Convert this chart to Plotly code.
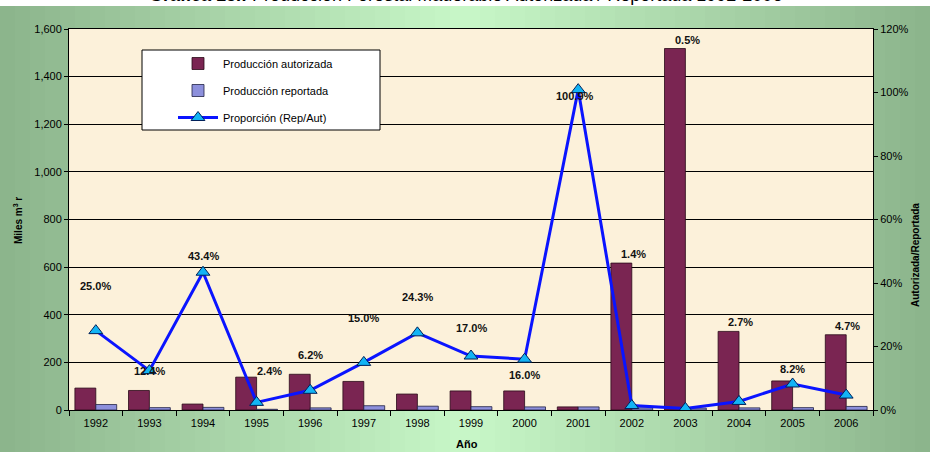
import plotly.graph_objects as go

years = ["1992", "1993", "1994", "1995", "1996", "1997", "1998", "1999",
         "2000", "2001", "2002", "2003", "2004", "2005", "2006"]
autorizada = [92, 82, 25, 138, 150, 120, 67, 80, 80, 13, 617, 1518, 330, 122, 316]
reportada = [23, 10, 11, 3, 9, 18, 16, 14, 13, 13, 9, 8, 9, 10, 15]
proporcion = [25.0, 12.4, 43.4, 2.4, 6.2, 15.0, 24.3, 17.0, 16.0, 100.9, 1.4, 0.5, 2.7, 8.2, 4.7]
prop_labels = ["25.0%", "12.4%", "43.4%", "2.4%", "6.2%", "15.0%", "24.3%", "17.0%",
               "16.0%", "100.9%", "1.4%", "0.5%", "2.7%", "8.2%", "4.7%"]

# label placement styling (anchor, xshift, yshift in px)
label_style = [("line", 0, 45), ("line", 0, 0), ("line", 0, 16), ("line", 13, 31),
               ("line", 0, 35), ("line", 0, 44), ("line", 0, 36), ("line", 0, 28),
               ("line", 0, -16), ("line", -3, -6), ("bar", 2, 1), ("bar", 2, 1),
               ("bar", 1, 1), ("line", 0, 15), ("bar", 1, 1)]

W, H = 930, 452
PL, PR, PT, PB = 69, 873, 29, 410
FONT = "Liberation Sans, Arial"


def px(x):
    return (x - PL) / (PR - PL)


def py(y):
    return (PB - y) / (PB - PT)


fig = go.Figure()

fig.add_trace(go.Bar(
    x=years, y=autorizada, name="Producción autorizada", yaxis="y", legendgroup="a",
    marker=dict(color="#7a2552", line=dict(color="#2a0a18", width=0.8)),
))
fig.add_trace(go.Bar(
    x=years, y=reportada, name="Producción reportada", yaxis="y", legendgroup="b",
    marker=dict(color="#8d90dc", line=dict(color="#222244", width=0.8)),
))
fig.add_trace(go.Scatter(
    x=years, y=proporcion, name="Proporción (Rep/Aut)", yaxis="y2", legendgroup="c",
    mode="lines+markers",
    line=dict(color="#0a14ff", width=3),
    marker=dict(symbol="triangle-up", size=12, color="#12b4f5",
                line=dict(color="#00205a", width=1)),
))

annotations = []
for i, lab in enumerate(prop_labels):
    anchor, xs, ys = label_style[i]
    if anchor == "bar":
        annotations.append(dict(x=i, y=autorizada[i], xref="x", yref="y", text="<b>%s</b>" % lab,
                                showarrow=False, xshift=xs, yshift=ys, yanchor="bottom",
                                font=dict(size=11, color="#111111", family=FONT)))
    else:
        annotations.append(dict(x=i, y=proporcion[i], xref="x", yref="y2", text="<b>%s</b>" % lab,
                                showarrow=False, xshift=xs, yshift=ys, yanchor="middle",
                                font=dict(size=11, color="#111111", family=FONT)))

# title (clipped at top, as in reference)
annotations.append(dict(x=px(465), xref="paper", y=py(7), yref="paper", yanchor="bottom",
                        text="<b>Gráfica 13I:</b> Producción Forestal Maderable Autorizada / Reportada 1992-2006",
                        showarrow=False, font=dict(size=18, color="#000000", family=FONT)))
annotations.append(dict(x=px(18), xref="paper", y=py(221), yref="paper",
                        text="<b>Miles m<sup>3</sup> r</b>", textangle=-90, showarrow=False,
                        yanchor="middle", xanchor="center",
                        font=dict(size=10, color="#000000", family=FONT)))
annotations.append(dict(x=px(915), xref="paper", y=py(255), yref="paper",
                        text="<b>Autorizada/Reportada</b>", textangle=-90, showarrow=False,
                        yanchor="middle", xanchor="center",
                        font=dict(size=10, color="#000000", family=FONT)))
annotations.append(dict(x=px(467), xref="paper", y=py(444), yref="paper",
                        text="<b>Año</b>", showarrow=False, yanchor="middle",
                        font=dict(size=11, color="#000000", family=FONT)))

# background gradient strips (styling)
shapes = []
n = 62
c_edge = (0x8c, 0xb4, 0x8c)
c_mid = (0xc8, 0xf8, 0xc8)
for k in range(n):
    t = (k + 0.5) / n
    f = 1 - abs(t - 0.5) * 2
    col = tuple(int(c_edge[j] + (c_mid[j] - c_edge[j]) * f) for j in range(3))
    x0 = k * W / n
    x1 = (k + 1) * W / n + 1
    shapes.append(dict(type="rect", xref="paper", yref="paper", x0=px(x0), x1=px(x1),
                       y0=py(H + 2), y1=py(6), fillcolor="rgb(%d,%d,%d)" % col,
                       line=dict(width=0), layer="below"))
# plot area panel
shapes.append(dict(type="rect", xref="paper", yref="paper", x0=0, x1=1, y0=0, y1=1,
                   fillcolor="#fcf1da", line=dict(width=0), layer="below"))
# legend box
shapes.append(dict(type="rect", xref="paper", yref="paper", x0=px(142), x1=px(380),
                   y0=py(130), y1=py(50), fillcolor="#ffffff",
                   line=dict(width=1, color="#000000"), layer="above"))

fig.update_layout(
    width=W, height=H,
    margin=dict(l=PL, r=W - PR, t=PT, b=H - PB),
    paper_bgcolor="#ffffff",
    plot_bgcolor="#fcf1da",
    barmode="group", bargap=0.22, bargroupgap=0,
    font=dict(family=FONT, size=11, color="#000000"),
    showlegend=True,
    legend=dict(x=px(173), y=py(49), xanchor="left", yanchor="top",
                bgcolor="rgba(0,0,0,0)", borderwidth=0,
                font=dict(size=11), itemwidth=40, tracegroupgap=8,
                traceorder="grouped"),
    xaxis=dict(type="category", range=[-0.5, len(years) - 0.5], showline=True,
               linecolor="#000000", linewidth=1, mirror=True,
               ticks="outside", tickson="boundaries", ticklen=5, tickcolor="#000000",
               showgrid=False, tickfont=dict(size=11), ticklabelstandoff=3),
    yaxis=dict(range=[0, 1600], dtick=200, tickformat=",", showline=True, linecolor="#000000",
               ticks="outside", ticklen=4, tickcolor="#000000", showgrid=True,
               gridcolor="#000000", gridwidth=1, zeroline=False, tickfont=dict(size=11)),
    yaxis2=dict(range=[0, 120], dtick=20, ticksuffix="%", overlaying="y", side="right",
                showline=True, linecolor="#000000", ticks="outside", ticklen=4,
                tickcolor="#000000", showgrid=False, zeroline=False, tickfont=dict(size=11)),
    annotations=annotations,
    shapes=shapes,
)

fig.write_html("out.html", config={"displayModeBar": False},
               post_script="document.body.style.margin='0';document.documentElement.style.overflow='hidden';")
